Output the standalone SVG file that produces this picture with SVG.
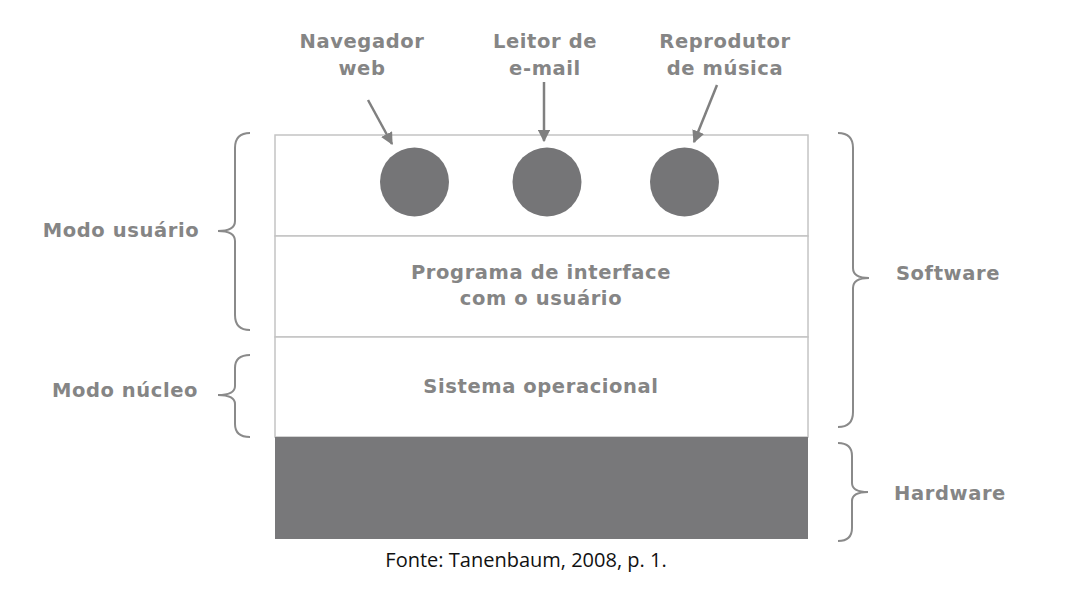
<svg xmlns="http://www.w3.org/2000/svg" width="1083" height="601" viewBox="0 0 1083 601">
<style>
.lbl{font-family:"DejaVu Sans",Verdana,sans-serif;font-weight:bold;font-size:19.5px;letter-spacing:0.6px;fill:#858585;text-anchor:middle}
.layer{fill:#fff;stroke:#c4c4c4;stroke-width:1.5}
.proc{fill:#757577}
.brace{fill:none;stroke:#8a8a8a;stroke-width:2}
.arrow{stroke:#808080;stroke-width:2.5;fill:none}
</style>
<defs>
<marker id="ah" viewBox="0 0 10 10" refX="9" refY="5" markerWidth="5" markerHeight="5" orient="auto" markerUnits="strokeWidth">
<path d="M0,0 L10,5 L0,10 z" fill="#808080"/>
</marker>
</defs>
<rect width="1083" height="601" fill="#fff"/>
<g id="user-layer">
<rect class="layer" x="275" y="135" width="533" height="101"/>
</g>
<g id="ui-layer">
<rect class="layer" x="275" y="236" width="533" height="101"/>
<text class="lbl" x="541" y="279">Programa de interface</text>
<text class="lbl" x="541" y="305">com o usuário</text>
</g>
<g id="os-layer">
<rect class="layer" x="275" y="337" width="533" height="100"/>
<text class="lbl" x="541" y="393">Sistema operacional</text>
</g>
<g id="hardware-layer">
<rect x="275" y="437" width="533" height="102" fill="#78787a"/>
</g>
<g id="navegador">
<circle class="proc" cx="414.5" cy="182" r="34.5"/>
<text class="lbl" x="362" y="48">Navegador</text>
<text class="lbl" x="362" y="75">web</text>
</g>
<g id="leitor">
<circle class="proc" cx="547" cy="182" r="34.5"/>
<text class="lbl" x="545" y="48">Leitor de</text>
<text class="lbl" x="545" y="75">e-mail</text>
</g>
<g id="reprodutor">
<circle class="proc" cx="684.5" cy="182" r="34.5"/>
<text class="lbl" x="725" y="48">Reprodutor</text>
<text class="lbl" x="725" y="75">de música</text>
</g>
<g id="modo-usuario">
<text class="lbl" x="121" y="237">Modo usuário</text>
</g>
<g id="modo-nucleo">
<text class="lbl" x="125" y="397">Modo núcleo</text>
</g>
<g id="software">
<text class="lbl" x="948" y="280">Software</text>
</g>
<g id="hardware">
<text class="lbl" x="950" y="500">Hardware</text>
</g>
<g id="connectors">
<line class="arrow" x1="368" y1="100" x2="392" y2="144" marker-end="url(#ah)"/>
<line class="arrow" x1="544" y1="82" x2="544" y2="141" marker-end="url(#ah)"/>
<line class="arrow" x1="717" y1="85" x2="694" y2="142" marker-end="url(#ah)"/>
<path class="brace" d="M250,133 Q235,133 235,148 L235,221 Q235,231 218,231 Q235,231 235,241 L235,315 Q235,330 250,330"/>
<path class="brace" d="M250,355 Q235,355 235,368 L235,386 Q235,395 218,395 Q235,395 235,404 L235,424 Q235,437 250,437"/>
<path class="brace" d="M838,133 Q853,133 853,148 L853,268 Q853,278 869,278 Q853,278 853,288 L853,412 Q853,427 838,427"/>
<path class="brace" d="M838,443 Q852,443 852,456 L852,483 Q852,492 868,492 Q852,492 852,501 L852,528 Q852,541 838,541"/>
</g>
<text x="526" y="567" font-family="'Open Sans','Noto Sans',sans-serif" font-size="20" fill="#111" text-anchor="middle">Fonte: Tanenbaum, 2008, p. 1.</text>
</svg>
